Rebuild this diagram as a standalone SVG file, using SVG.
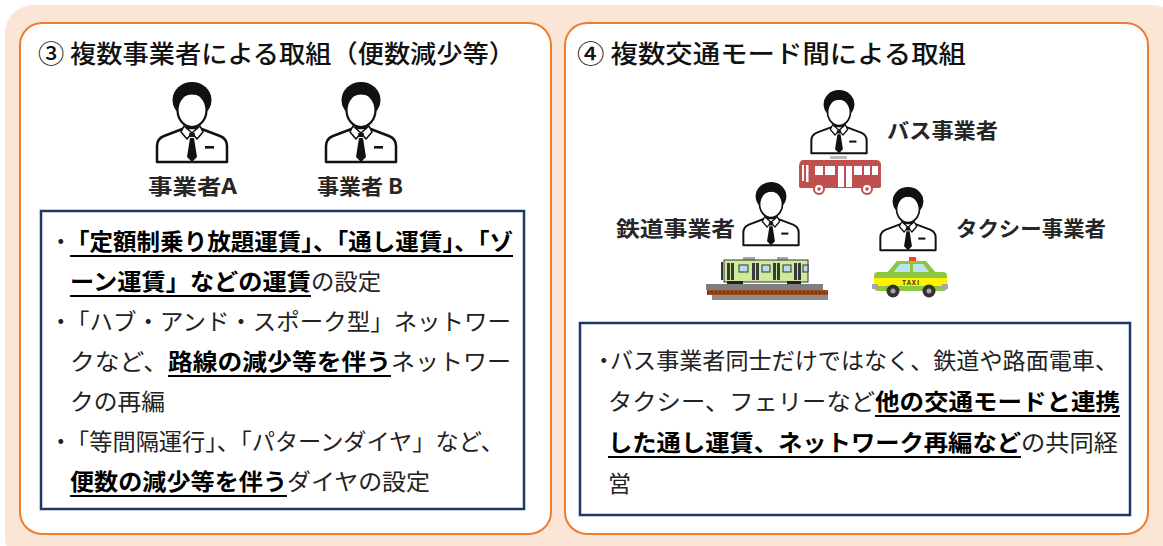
<svg xmlns="http://www.w3.org/2000/svg" xmlns:xlink="http://www.w3.org/1999/xlink" width="1163" height="546" viewBox="0 0 1163 546">
  <style>
    text { font-family: "Noto Sans CJK JP", "Noto Sans", sans-serif; }
    .panel { fill: #ffffff; stroke: #ED7D31; stroke-width: 2; }
    .box { fill: #ffffff; stroke: #1F3864; stroke-width: 2.5; }
    .title { font-size: 25px; font-weight: 500; fill: #111111; }
    .lbl { font-size: 21px; font-weight: 700; fill: #262626; }
    .txt { font-size: 23px; font-weight: 400; fill: #222222; }
    .b { font-weight: 700; fill: #000000; }
    .dot { font-weight: 400; fill: #222222; font-feature-settings: "palt" 1; }
    .ul { stroke: #000000; stroke-width: 1.8; }
    .ink { fill: #111111; }
    .line { fill: #ffffff; stroke: #111111; stroke-linejoin: round; }
  </style>
  <defs>
    <!-- operator figure, origin at top centre, 72 x 81 -->
    <g id="person">
      <ellipse class="ink" cx="0" cy="18" rx="19.5" ry="18"/>
      <ellipse class="line" cx="0" cy="28" rx="14.5" ry="17" stroke-width="2.2"/>
      <path class="ink" d="M-15 24 C-12 14 -4 11 5 13 C10 14 14 18 15 24 C14 13 8 7 0 7 C-9 7 -14 14 -15 24 Z"/>
      <path class="line" d="M-7 46 L-28 54 C-33 56 -35 59 -35 64 L-35 80 L35 80 L35 64 C35 59 33 56 28 54 L7 46 Z" stroke-width="2.5"/>
      <path class="line" d="M-8 44 L0 51 L-5 57 L-11 50 Z" stroke-width="1.6"/>
      <path class="line" d="M8 44 L0 51 L5 57 L11 50 Z" stroke-width="1.6"/>
      <path class="ink" d="M-3 51 L3 51 L2 55 L-2 55 Z"/>
      <path class="ink" d="M-2 56 L2 56 L5 75 L0 80 L-5 75 Z"/>
      <rect class="ink" x="13" y="64" width="9" height="2.6"/>
    </g>
  </defs>

  <!-- backdrop -->
  <rect x="5" y="5" width="1175" height="560" rx="28" fill="#FBE5D6"/>

  <!-- panel 3: several operators -->
  <g id="panel3">
    <rect class="panel" x="20" y="23" width="531" height="511" rx="22"/>
    <text class="title" x="38" y="63" textLength="477" lengthAdjust="spacingAndGlyphs">③ 複数事業者による取組（便数減少等）</text>
  </g>

  <g id="operatorA">
    <use xlink:href="#person" transform="translate(192,82)"/>
    <text class="lbl" x="148" y="194" textLength="89" lengthAdjust="spacingAndGlyphs">事業者A</text>
  </g>

  <g id="operatorB">
    <use xlink:href="#person" transform="translate(361,82)"/>
    <text class="lbl" x="317" y="194" textLength="86" lengthAdjust="spacingAndGlyphs">事業者 B</text>
  </g>

  <g id="box3">
    <rect class="box" x="41" y="211" width="483" height="298"/>
    <text class="txt b" y="250"><tspan class="dot" x="55">・</tspan><tspan x="66" textLength="447" lengthAdjust="spacingAndGlyphs">「定額制乗り放題運賃」、「通し運賃」、「ゾ</tspan></text>
    <line class="ul" x1="70" y1="256" x2="513" y2="256"/>

    <text class="txt b" x="70" y="290" textLength="241" lengthAdjust="spacingAndGlyphs">ーン運賃」などの運賃</text>
    <text class="txt" x="311" y="290" textLength="70" lengthAdjust="spacingAndGlyphs">の設定</text>
    <line class="ul" x1="70" y1="296" x2="311" y2="296"/>

    <text class="txt" y="330"><tspan class="dot" x="55">・</tspan><tspan x="66" textLength="445" lengthAdjust="spacingAndGlyphs">「ハブ・アンド・スポーク型」ネットワー</tspan></text>

    <text class="txt" x="70" y="370" textLength="98" lengthAdjust="spacingAndGlyphs">クなど、</text>
    <text class="txt b" x="168" y="370" textLength="223" lengthAdjust="spacingAndGlyphs">路線の減少等を伴う</text>
    <text class="txt" x="391" y="370" textLength="120" lengthAdjust="spacingAndGlyphs">ネットワー</text>
    <line class="ul" x1="168" y1="376" x2="391" y2="376"/>

    <text class="txt" x="70" y="410" textLength="95" lengthAdjust="spacingAndGlyphs">クの再編</text>

    <text class="txt" y="450"><tspan class="dot" x="55">・</tspan><tspan x="66" textLength="438" lengthAdjust="spacingAndGlyphs">「等間隔運行」、「パターンダイヤ」など、</tspan></text>

    <text class="txt b" x="70" y="490" textLength="217" lengthAdjust="spacingAndGlyphs">便数の減少等を伴う</text>
    <text class="txt" x="287" y="490" textLength="143" lengthAdjust="spacingAndGlyphs">ダイヤの設定</text>
    <line class="ul" x1="70" y1="496" x2="287" y2="496"/>
  </g>

  <!-- panel 4: several transport modes -->
  <g id="panel4">
    <rect class="panel" x="565" y="23" width="583" height="511" rx="22"/>
    <text class="title" x="577" y="63" textLength="389" lengthAdjust="spacingAndGlyphs">④ 複数交通モード間による取組</text>
  </g>

  <g id="busOperator">
    <use xlink:href="#person" transform="translate(839,90) scale(0.79)"/>
    <text class="lbl" x="887" y="138" textLength="111" lengthAdjust="spacingAndGlyphs">バス事業者</text>
    <!-- bus -->
    <rect x="830" y="156" width="17" height="3" fill="#bdbdbd"/>
    <path d="M803 160 L876 160 Q881 160 881 165 L881 186 Q881 188 879 188 L801 188 Q799 188 799 186 L799 168 Q799 160 803 160 Z" fill="#C0504D"/>
    <g fill="#ffffff">
      <rect x="802" y="165" width="2" height="16"/>
      <rect x="806" y="165" width="2.5" height="17"/>
      <rect x="815" y="166" width="8" height="9"/>
      <rect x="825" y="166" width="10" height="9"/>
      <rect x="838" y="166" width="6" height="21"/>
      <rect x="846" y="166" width="6" height="21"/>
      <rect x="854" y="166" width="8" height="9"/>
      <rect x="864" y="166" width="6" height="9"/>
      <rect x="872" y="166" width="6" height="9"/>
    </g>
    <g fill="#ffffff" stroke="#C0504D" stroke-width="2">
      <circle cx="819" cy="189" r="5"/>
      <circle cx="867" cy="189" r="5"/>
    </g>
    <circle cx="819" cy="189" r="1.8" fill="#C0504D"/>
    <circle cx="867" cy="189" r="1.8" fill="#C0504D"/>
  </g>

  <g id="railOperator">
    <use xlink:href="#person" transform="translate(771,182) scale(0.79)"/>
    <text class="lbl" x="616" y="236" textLength="119" lengthAdjust="spacingAndGlyphs">鉄道事業者</text>
    <!-- train on track -->
    <rect x="743" y="257" width="12" height="4" fill="#a6a6a6"/>
    <rect x="777" y="257" width="11" height="4" fill="#a6a6a6"/>
    <rect x="724" y="260" width="84" height="22" fill="#CDEB9B" stroke="#333333" stroke-width="1"/>
    <g fill="#3a3a3a">
      <rect x="727" y="263" width="3" height="17"/>
      <rect x="731" y="263" width="3" height="17"/>
      <rect x="752" y="263" width="3" height="17"/>
      <rect x="756" y="263" width="3" height="17"/>
      <rect x="773" y="263" width="3" height="17"/>
      <rect x="777" y="263" width="3" height="17"/>
      <rect x="794" y="263" width="3" height="17"/>
      <rect x="798" y="263" width="3" height="17"/>
    </g>
    <g fill="#BDD7EE" stroke="#333333" stroke-width="1">
      <rect x="739" y="265" width="9" height="7"/>
      <rect x="762" y="265" width="8" height="7"/>
      <rect x="783" y="265" width="8" height="7"/>
      <rect x="803" y="265" width="5" height="7"/>
    </g>
    <rect x="721" y="262" width="2" height="18" fill="#333333"/>
    <g fill="#222222">
      <rect x="727" y="281" width="16" height="3"/>
      <circle cx="730" cy="285" r="2.5"/>
      <circle cx="740" cy="285" r="2.5"/>
      <rect x="787" y="281" width="14" height="3"/>
      <circle cx="790" cy="285" r="2.5"/>
      <circle cx="799" cy="285" r="2.5"/>
    </g>
    <rect x="706" y="284" width="117" height="6" fill="#7f7f7f"/>
    <rect x="707" y="290" width="121" height="5" fill="#9C4A17"/>
    <line x1="707" y1="292.5" x2="828" y2="292.5" stroke="#6b2e0b" stroke-width="2" stroke-dasharray="2 2"/>
    <rect x="712" y="295" width="116" height="5" fill="#8c8c8c"/>
  </g>

  <g id="taxiOperator">
    <use xlink:href="#person" transform="translate(908,187) scale(0.79)"/>
    <text class="lbl" x="956" y="236" textLength="150" lengthAdjust="spacingAndGlyphs">タクシー事業者</text>
    <!-- taxi -->
    <rect x="909" y="257" width="7" height="4" fill="#FF3B30"/>
    <path d="M886 274 L897 261 L926 261 L937 274 Z" fill="#8DC63F"/>
    <path d="M893 273 L900 264 L910 264 L910 273 Z" fill="#BDE3F5"/>
    <path d="M913 273 L913 264 L923 264 L930 273 Z" fill="#BDE3F5"/>
    <rect x="874" y="272" width="73" height="19" rx="4" fill="#8DC63F"/>
    <rect x="874" y="278" width="73" height="8" fill="#FFF200"/>
    <text x="911" y="285" text-anchor="middle" font-size="6.5" font-weight="700" fill="#333333" letter-spacing="1">TAXI</text>
    <rect x="872" y="284" width="6" height="5" fill="#a6a6a6"/>
    <rect x="942" y="284" width="6" height="5" fill="#a6a6a6"/>
    <circle cx="893" cy="291" r="6.5" fill="#333333"/>
    <circle cx="893" cy="291" r="2.5" fill="#a6a6a6"/>
    <circle cx="929" cy="291" r="6.5" fill="#333333"/>
    <circle cx="929" cy="291" r="2.5" fill="#a6a6a6"/>
  </g>

  <g id="box4">
    <rect class="box" x="580" y="323" width="550" height="192"/>
    <text class="txt" y="369"><tspan class="dot" x="598">・</tspan><tspan x="610" textLength="508" lengthAdjust="spacingAndGlyphs">バス事業者同士だけではなく、鉄道や路面電車、</tspan></text>

    <text class="txt" x="608" y="410" textLength="267" lengthAdjust="spacingAndGlyphs">タクシー、フェリーなど</text>
    <text class="txt b" x="875" y="410" textLength="245" lengthAdjust="spacingAndGlyphs">他の交通モードと連携</text>
    <line class="ul" x1="875" y1="416" x2="1120" y2="416"/>

    <text class="txt b" x="608" y="451" textLength="413" lengthAdjust="spacingAndGlyphs">した通し運賃、ネットワーク再編など</text>
    <text class="txt" x="1021" y="451" textLength="97" lengthAdjust="spacingAndGlyphs">の共同経</text>
    <line class="ul" x1="608" y1="457" x2="1021" y2="457"/>

    <text class="txt" x="608" y="492">営</text>
  </g>
</svg>
